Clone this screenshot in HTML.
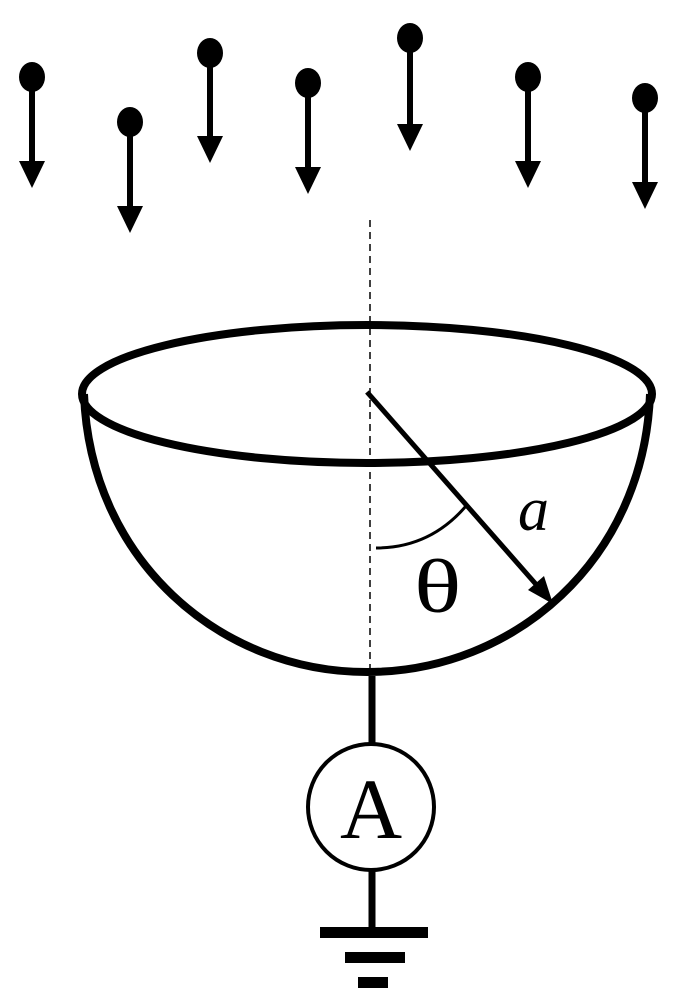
<!DOCTYPE html>
<html><head><style>html,body{margin:0;padding:0;background:#fff}svg{display:block}</style></head>
<body>
<svg width="679" height="999" viewBox="0 0 679 999" xmlns="http://www.w3.org/2000/svg">
<g fill="#000" stroke="#000">
<g stroke-width="6">
<line x1="32" y1="85" x2="32" y2="165"/>
<line x1="130" y1="130" x2="130" y2="210"/>
<line x1="210" y1="61" x2="210" y2="140"/>
<line x1="308" y1="91" x2="308" y2="170"/>
<line x1="410" y1="46" x2="410" y2="128"/>
<line x1="528" y1="85" x2="528" y2="165"/>
<line x1="645" y1="106" x2="645" y2="186"/>
</g>
<g stroke="none">
<ellipse cx="32" cy="77" rx="13" ry="15"/><polygon points="19,161 45,161 32,188"/>
<ellipse cx="130" cy="122" rx="13" ry="15"/><polygon points="117,206 143,206 130,233"/>
<ellipse cx="210" cy="53" rx="13" ry="15"/><polygon points="197,136 223,136 210,163"/>
<ellipse cx="308" cy="83" rx="13" ry="15"/><polygon points="295,167 321,167 308,194"/>
<ellipse cx="410" cy="38" rx="13" ry="15"/><polygon points="397,124 423,124 410,151"/>
<ellipse cx="528" cy="77" rx="13" ry="15"/><polygon points="515,161 541,161 528,188"/>
<ellipse cx="645" cy="98" rx="13" ry="15"/><polygon points="632,182 658,182 645,209"/>
</g>
</g>
<line x1="370" y1="220" x2="370" y2="672" stroke="#000" stroke-width="1.5" stroke-dasharray="7,5"/>
<g fill="none" stroke="#000" stroke-width="8">
<ellipse cx="367" cy="394" rx="285" ry="69"/>
<path d="M84,394 C90,560 220,672 367,672 C514,672 644,560 650,394"/>
</g>
<line x1="367" y1="392" x2="541" y2="590" stroke="#000" stroke-width="5"/>
<polygon points="553,604 528,590 544,576" fill="#000"/>
<path d="M376,548 Q430,548 466,506" fill="none" stroke="#000" stroke-width="3"/>
<text x="518" y="530" font-family="Liberation Serif, serif" font-style="italic" font-size="62">a</text>
<text x="0" y="0" transform="translate(414,612) scale(1.3,1)" font-family="Liberation Serif, DejaVu Serif, serif" font-size="76">θ</text>
<line x1="372" y1="676" x2="372" y2="745" stroke="#000" stroke-width="7"/>
<circle cx="371" cy="807" r="63" fill="none" stroke="#000" stroke-width="4"/>
<text x="371" y="838" text-anchor="middle" font-family="Liberation Serif, serif" font-size="86">A</text>
<line x1="372" y1="870" x2="372" y2="930" stroke="#000" stroke-width="7"/>
<rect x="320" y="927" width="108" height="11" fill="#000"/>
<rect x="345" y="952" width="60" height="11" fill="#000"/>
<rect x="358" y="977" width="30" height="11" fill="#000"/>
</svg>
</body></html>
